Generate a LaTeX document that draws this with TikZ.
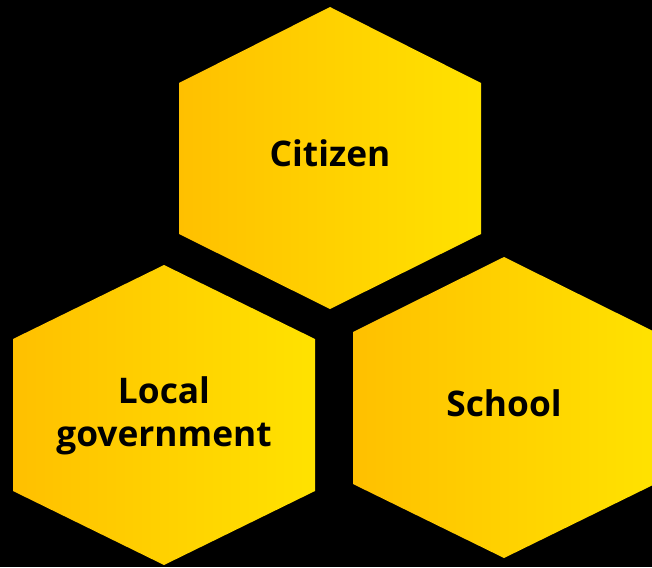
\documentclass[tikz,border=0pt]{standalone}
\usepackage{fontspec}
\setmainfont{Open Sans}
\definecolor{hexleft}{HTML}{FFC000}
\definecolor{hexright}{HTML}{FFE200}
\begin{document}
\begin{tikzpicture}[x=1pt,y=-1pt,
  hexfill/.style={left color=hexleft, right color=hexright},
  hexlabel/.style={font=\fontsize{35.3}{43}\selectfont\bfseries, text=black, align=center, inner sep=0pt}]
\fill[black] (0,0) rectangle (652,567);
\useasboundingbox (0,0) rectangle (652,567);
\clip (0,0) rectangle (652,567);
\begin{scope}[shift={(330,158)}]
  \shade[hexfill] (0,-151) -- (151,-75) -- (151,76) -- (0,151) -- (-151,76) -- (-151,-75) -- cycle;
  \node[hexlabel] (citizen) at (0,-4.5) {Citizen};
\end{scope}
\begin{scope}[shift={(164,415)}]
  \shade[hexfill] (0,-150) -- (151,-76) -- (151,76) -- (0,150) -- (-151,76) -- (-151,-76) -- cycle;
  \node[hexlabel] (localgov) at (0,0.5) {Local\\government};
\end{scope}
\begin{scope}[shift={(504,408)}]
  \shade[hexfill] (0,-151) -- (151,-76) -- (151,76) -- (0,150) -- (-151,76) -- (-151,-76) -- cycle;
  \node[hexlabel] (school) at (0,-4.5) {School};
\end{scope}
\end{tikzpicture}
\end{document}
